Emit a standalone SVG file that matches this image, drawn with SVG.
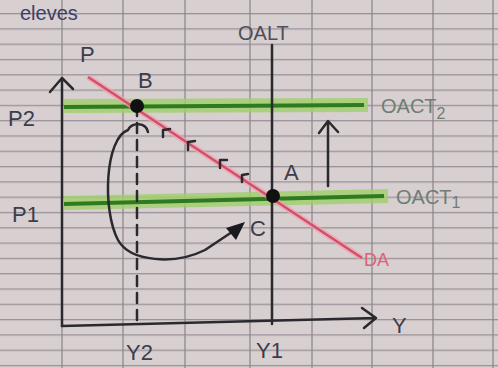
<svg xmlns="http://www.w3.org/2000/svg" width="498" height="368" viewBox="0 0 498 368">
<defs>
<style>
.hl{stroke:#9fd06a;stroke-width:14;opacity:0.8;fill:none}
.gl{stroke:#2f7a1e;stroke-width:4;fill:none}
.ink{stroke:#2a2a2e;stroke-width:2.5;fill:none;stroke-linecap:round;stroke-linejoin:round}
.lbl{font-family:"Liberation Sans",Arial,sans-serif;font-size:22px;fill:#3c3c4a}
.glbl{font-family:"Liberation Sans",Arial,sans-serif;font-size:20px;fill:#6f7d74}
.grid line{stroke:#8a8488;stroke-width:1.2}
</style>
<pattern id="hz" x="0" y="13" width="498" height="15.3" patternUnits="userSpaceOnUse">
<rect x="0" y="0" width="498" height="1.3" fill="#9a9298"/>
</pattern>
</defs>
<rect width="498" height="368" fill="#d8cfd0"/>
<rect width="498" height="368" fill="url(#hz)"/>
<g class="grid">
<line x1="62" y1="0" x2="62" y2="368"/>
<line x1="123" y1="0" x2="123" y2="368"/>
<line x1="185" y1="0" x2="185" y2="368"/>
<line x1="250" y1="0" x2="250" y2="368"/>
<line x1="312" y1="0" x2="312" y2="368"/>
<line x1="372" y1="0" x2="372" y2="368"/>
<line x1="433" y1="0" x2="433" y2="368"/>
<line x1="493" y1="0" x2="493" y2="368"/>
</g>
<text x="20" y="20" style="font-family:'Liberation Sans',sans-serif;font-size:20px;fill:#3a3f6a">eleves</text>
<g id="connectors">
<line class="hl" x1="64" y1="106" x2="368" y2="105"/>
<line class="gl" x1="64" y1="107" x2="364" y2="105"/>
<line class="hl" x1="64" y1="203" x2="388" y2="196"/>
<line class="gl" x1="64" y1="204" x2="384" y2="196"/>
<line x1="88" y1="77" x2="362" y2="258" stroke="#f5a0b0" stroke-width="6" opacity="0.7"/>
<line x1="88" y1="77" x2="362" y2="258" stroke="#d0506a" stroke-width="2.5"/>
<path class="ink" d="M62 326 L62 80 M50 92 L62 78 L73 89"/>
<path class="ink" d="M62 326 L376 318 M362 308 L376 318 L364 328"/>
<line class="ink" x1="272" y1="45" x2="272" y2="324"/>
<line class="ink" x1="137" y1="106" x2="137" y2="325" stroke-dasharray="10 7" stroke-width="2"/>
<path class="ink" d="M328 186 L328 122 M319 133 L328 121 L338 132"/>
<path class="ink" d="M148 132 C146 122 132 122 128 130 C105 138 102 210 118 240 C130 262 175 265 205 250 L238 228"/>
<polygon points="245,222 226,228 236,240" fill="#1a1a1e"/>
<path class="ink" stroke-width="2" d="M163 137 L163 130 L170 129 M188 150 L188 142 L195 141 M220 168 L220 160 L227 160 M242 182 L242 175 L248 174"/>
</g>
<g id="B"><circle cx="137" cy="106" r="7" fill="#111"/><text class="lbl" x="138" y="88">B</text></g>
<g id="A"><circle cx="273" cy="196" r="7" fill="#111"/><text class="lbl" x="284" y="180">A</text></g>
<g id="C"><text class="lbl" x="250" y="236">C</text></g>
<g id="P"><text class="lbl" x="80" y="62">P</text></g>
<g id="P2"><text class="lbl" x="8" y="126">P2</text></g>
<g id="P1"><text class="lbl" x="12" y="222">P1</text></g>
<g id="OALT"><text class="glbl" x="238" y="40" style="fill:#4e4e58">OALT</text></g>
<g id="OACT2"><text class="glbl" x="381" y="113">OACT<tspan font-size="16" dy="6">2</tspan></text></g>
<g id="OACT1"><text class="glbl" x="396" y="204">OACT<tspan font-size="16" dy="4">1</tspan></text></g>
<g id="DA"><text x="364" y="266" style="font-family:'Liberation Sans',sans-serif;font-size:18px;fill:#e0607a">DA</text></g>
<g id="Y"><text class="lbl" x="392" y="333" font-size="24">Y</text></g>
<g id="Y2"><text class="lbl" x="126" y="360">Y2</text></g>
<g id="Y1"><text class="lbl" x="256" y="358">Y1</text></g>
</svg>
